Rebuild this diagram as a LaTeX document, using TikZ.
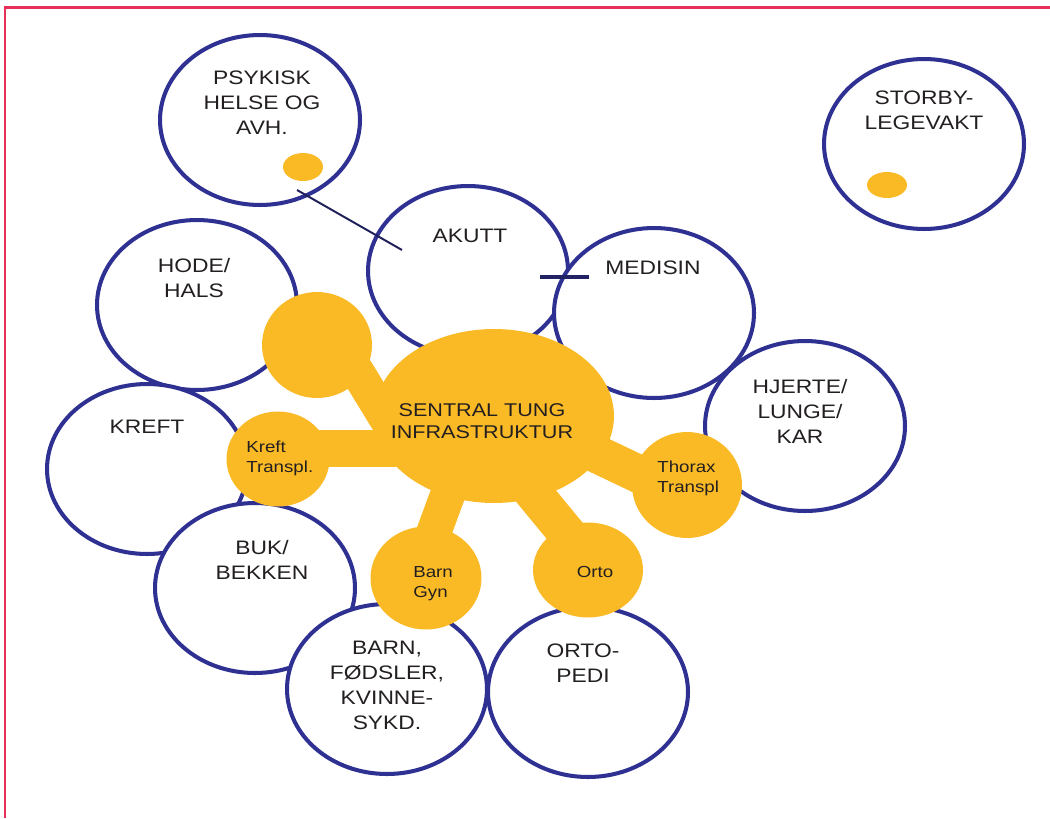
\documentclass[tikz,border=0pt]{standalone}
\usepackage{fontspec}
\setmainfont{Liberation Sans}[FakeStretch=1.17]
\usetikzlibrary{shapes.geometric}
\definecolor{ringblue}{RGB}{46,49,146}
\definecolor{hubyellow}{RGB}{250,186,38}
\definecolor{linknavy}{RGB}{31,32,90}
\definecolor{framered}{RGB}{230,48,90}
\definecolor{textdark}{RGB}{35,31,32}

\begin{document}
\begin{tikzpicture}[
    x=0.02cm, y=-0.02cm,
    bubble/.style={ellipse, draw=ringblue, line width=2.3pt, fill=white, minimum width=4cm, minimum height=3.4cm, inner sep=0pt},
    blob/.style={ellipse, fill=hubyellow, inner sep=0pt},
    neck/.style={draw=hubyellow, line width=#1},
    neck/.default=0.74cm,
    lbl/.style={text=textdark, align=center, inner sep=0pt, font=\fontsize{11.1}{14.2}\selectfont},
    smalllbl/.style={text=textdark, align=left, inner sep=0pt, font=\fontsize{9.1}{11.4}\selectfont},
]
\useasboundingbox (0,0) rectangle (1050,818);

% Page frame
\draw[framered, line width=1.3pt] (1050,7.5) -- (5,7.5) -- (5,818);

% Clinic bubbles
\node[bubble] (psyk) at (260,120) {};
\node[bubble] (storby) at (924,144) {};
\node[bubble] (akutt) at (468,271) {};
\node[bubble] (medisin) at (654,313) {};
\node[bubble] (hode) at (197,305) {};
\node[bubble] (kreft) at (147,469) {};
\node[bubble] (buk) at (255,588) {};
\node[bubble] (barn) at (387,689) {};
\node[bubble] (orto) at (588,692) {};
\node[bubble] (hjerte) at (805,426) {};

% Small markers
\node[blob, minimum width=0.8cm, minimum height=0.56cm] (psyk_dot) at (303,167) {};
\node[blob, minimum width=0.8cm, minimum height=0.52cm] (storby_dot) at (887,185) {};

% Link psykisk -> akutt
\coordinate (psyk_end) at (297,190);
\coordinate (akutt_end) at (402,250);
\draw[linknavy, line width=1.1pt] (psyk_end) -- (akutt_end);

% Bar on medisin
\coordinate (bar_l) at (540,277);
\coordinate (bar_r) at (589,277);
\draw[linknavy!80!ringblue, line width=2.8pt] (bar_l) -- (bar_r);

% Central infrastructure
\node[blob, minimum width=4.8cm, minimum height=3.48cm] (hub) at (494,416) {};
\node[blob, minimum width=2.2cm, minimum height=2.12cm] (blob_tl) at (317,345) {};
\node[blob, minimum width=2.06cm, minimum height=1.9cm] (blob_kreft) at (278,459) {};
\node[blob, minimum width=2.2cm, minimum height=2.12cm] (blob_thorax) at (687,485) {};
\node[blob, minimum width=2.22cm, minimum height=2.06cm] (blob_barn) at (426,578) {};
\node[blob, minimum width=2.2cm, minimum height=1.9cm] (blob_orto) at (588,570) {};

% Necks to the hub
\draw[neck=0.68cm] ([shift={(27,5)}]blob_tl.center) -- ([shift={(-95,24)}]hub.center);
\draw[neck=0.74cm] ([shift={(0,-11)}]blob_kreft.center) -- ([shift={(-74,32)}]hub.center);
\draw[neck=0.76cm] ([shift={(0,12)}]blob_thorax.center) -- ([shift={(71,23)}]hub.center);
\draw[neck=0.7cm] ([shift={(-9,0)}]blob_barn.center) -- ([shift={(-31,37)}]hub.center);
\draw[neck=0.76cm] ([shift={(9,0)}]blob_orto.center) -- ([shift={(9,40)}]hub.center);

% Labels
\node[lbl] (psyk_txt) at (262,103) {PSYKISK\\HELSE OG\\AVH.};
\node[lbl] (storby_txt) at (924,110) {STORBY-\\LEGEVAKT};
\node[lbl] (akutt_txt) at (470,236) {AKUTT};
\node[lbl] (medisin_txt) at (653,268) {MEDISIN};
\node[lbl] (hode_txt) at (194,278) {HODE/\\HALS};
\node[lbl] (hjerte_txt) at (800,411) {HJERTE/\\LUNGE/\\KAR};
\node[lbl] (kreft_txt) at (147,427) {KREFT};
\node[lbl] (buk_txt) at (262,560) {BUK/\\BEKKEN};
\node[lbl] (barn_txt) at (387,685) {BARN,\\FØDSLER,\\KVINNE-\\SYKD.};
\node[lbl] (orto_txt) at (583,663) {ORTO-\\PEDI};
\node[lbl, font=\fontsize{10.5}{12.9}\selectfont] (hub_txt) at (482,421) {SENTRAL TUNG\\INFRASTRUKTUR};

\node[smalllbl, anchor=west] (kreft_small) at (246,458) {Kreft\\Transpl.};
\node[smalllbl, anchor=west] (thorax_small) at (657,478) {Thorax\\Transpl};
\node[smalllbl, anchor=west] (barn_small) at (413,584) {Barn\\Gyn};
\node[smalllbl] (orto_small) at (595,572) {Orto};

\end{tikzpicture}
\end{document}
